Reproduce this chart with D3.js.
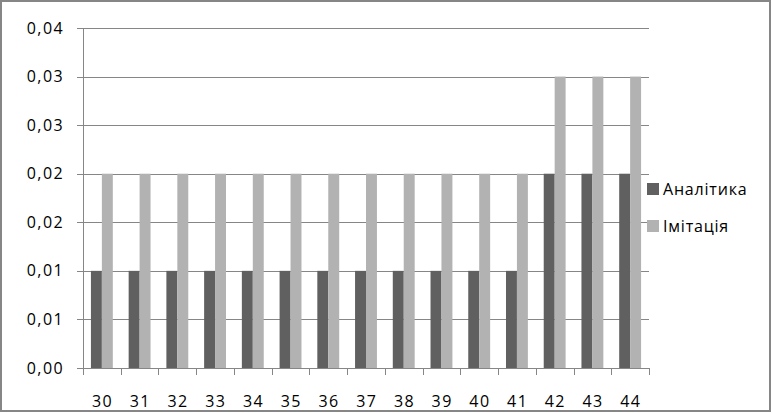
<!DOCTYPE html>
<html><head><meta charset="utf-8">
<script src="https://cdn.jsdelivr.net/npm/d3@7"></script>
<style>body{margin:0;background:#fff}svg text{font-family:"Open Sans",sans-serif;fill:#000}</style>
</head><body><svg id="c" width="772" height="413"></svg>
<script>
const categories = ["30","31","32","33","34","35","36","37","38","39","40","41","42","43","44"];
const analytics = [0.01,0.01,0.01,0.01,0.01,0.01,0.01,0.01,0.01,0.01,0.01,0.01,0.02,0.02,0.02];
const imitation = [0.02,0.02,0.02,0.02,0.02,0.02,0.02,0.02,0.02,0.02,0.02,0.02,0.03,0.03,0.03];
const yTickValues = [0,0.005,0.01,0.015,0.02,0.025,0.03,0.035];
const yTickLabels = ["0,00","0,01","0,01","0,02","0,02","0,03","0,03","0,04"];
const seriesNames = ["Аналітика","Імітація"];
const colors = ["#606060","#b2b2b2"];

const svg = d3.select("#c");
const L=83,R=649,T=28,B=368;
const grid="#868686";
svg.append("rect").attr("x",1).attr("y",1).attr("width",769).attr("height",410)
  .attr("fill","#fff").attr("stroke",grid).attr("stroke-width",2);

const x = d3.scaleBand().domain(categories).range([L,R]).paddingInner(0.42).paddingOuter(0.21);
const y = d3.scaleLinear().domain([0,0.035]).range([B,T]);

svg.append("g").selectAll("line").data(yTickValues).join("line")
  .attr("x1",L-6).attr("x2",R).attr("y1",d=>Math.round(y(d))+0.5).attr("y2",d=>Math.round(y(d))+0.5)
  .attr("stroke",grid).attr("stroke-width",1);
svg.append("g").selectAll("text").data(yTickValues).join("text")
  .attr("x",64).attr("y",d=>y(d)).attr("dy","0.35em").attr("text-anchor","end")
  .attr("font-size",16).attr("letter-spacing","1.4px")
  .text((d,i)=>yTickLabels[i]);
svg.append("line").attr("x1",L+0.5).attr("x2",L+0.5).attr("y1",T).attr("y2",B).attr("stroke",grid);
const step = (R-L)/categories.length;
const bounds = d3.range(categories.length+1).map(i=>L+i*step);
svg.append("g").selectAll("line").data(bounds).join("line")
  .attr("x1",d=>Math.round(d)+0.5).attr("x2",d=>Math.round(d)+0.5).attr("y1",B).attr("y2",B+7).attr("stroke",grid);

const x1 = d3.scaleBand().domain([0,1]).range([0,x.bandwidth()]);
const series=[analytics,imitation];
series.forEach((s,si)=>{
  svg.append("g").selectAll("rect").data(s).join("rect")
    .attr("x",(d,i)=>x(categories[i])+x1(si)).attr("width",x1.bandwidth())
    .attr("y",d=>y(d)).attr("height",d=>B-y(d)).attr("fill",colors[si]);
});
svg.append("g").selectAll("text").data(categories).join("text")
  .attr("x",d=>x(d)+x.bandwidth()/2+0.7).attr("y",401).attr("dy","0.35em").attr("text-anchor","middle")
  .attr("font-size",16).attr("letter-spacing","1.4px").text(d=>d);

seriesNames.forEach((n,i)=>{
  const cy = 189 + i*37;
  svg.append("rect").attr("x",647).attr("y",cy-6).attr("width",12).attr("height",12).attr("fill",colors[i]);
  svg.append("text").attr("x",663).attr("y",cy).attr("dy","0.35em").attr("font-size",16)
    .attr("letter-spacing","0.8px").text(n);
});
</script></body></html>
